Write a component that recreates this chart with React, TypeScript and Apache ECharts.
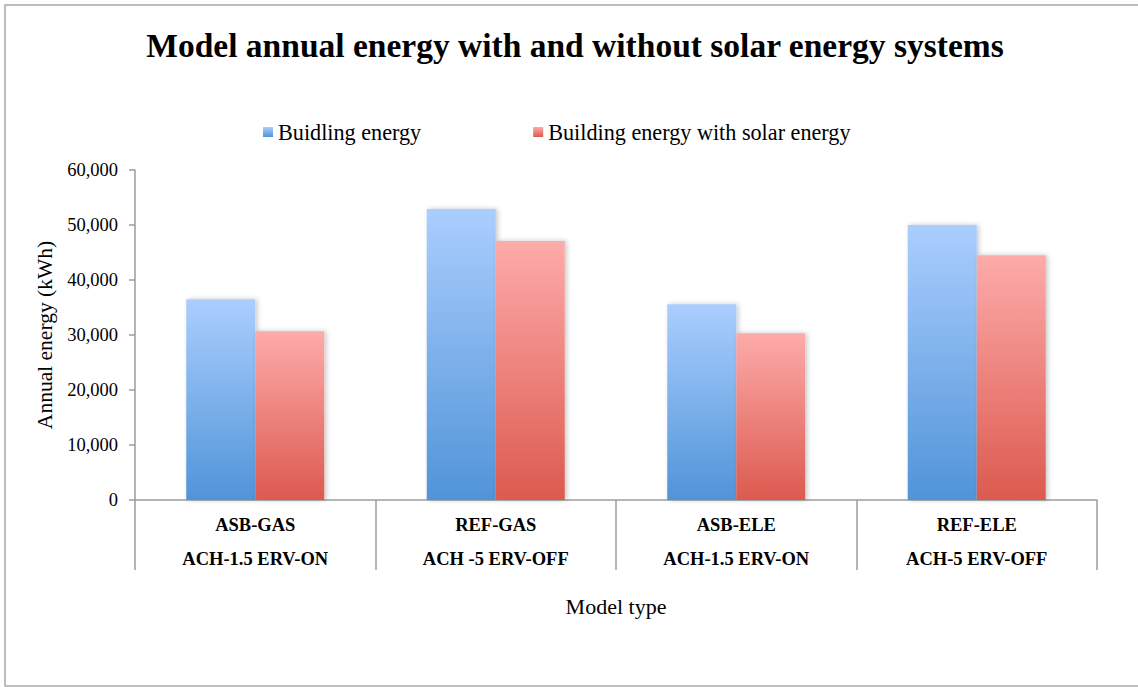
import React, { useEffect, useRef } from "react";
import * as echarts from "echarts";

// Model categories: model name on the first line, ventilation setup on the second
const modelNames = ["ASB-GAS", "REF-GAS", "ASB-ELE", "REF-ELE"];
const modelSetups = ["ACH-1.5 ERV-ON", "ACH -5 ERV-OFF", "ACH-1.5 ERV-ON", "ACH-5 ERV-OFF"];

// Annual energy per model (kWh)
const buildingEnergy = [36500, 52900, 35600, 50000];
const buildingEnergySolar = [30700, 47100, 30300, 44500];

const seriesNames = ["Buidling energy", "Building energy with solar energy"];
const yTicks = [0, 10000, 20000, 30000, 40000, 50000, 60000];

const FONT = "'Liberation Serif', 'Times New Roman', serif";

const gradient = (top: string, bottom: string) =>
  new echarts.graphic.LinearGradient(0, 0, 0, 1, [
    { offset: 0, color: top },
    { offset: 1, color: bottom },
  ]);

export default function App() {
  const ref = useRef<HTMLDivElement>(null);

  useEffect(() => {
    document.body.style.margin = "0";
    if (!ref.current) return;
    const chart = echarts.init(ref.current, undefined, { renderer: "svg" });

    const categories = modelNames.map((n, i) => `${n}\n${modelSetups[i]}`);
    const gridLine = {
      color: "#9c9c9c",
      width: 1.5,
      shadowColor: "rgba(0,0,0,0.18)",
      shadowBlur: 2,
      shadowOffsetY: 1.5,
    };
    const barShadow = {
      shadowColor: "rgba(0,0,0,0.22)",
      shadowBlur: 5,
      shadowOffsetX: 2,
      shadowOffsetY: 0,
    };

    chart.setOption({
      animation: false,
      backgroundColor: "#ffffff",
      textStyle: { fontFamily: FONT },
      graphic: [
        {
          type: "rect",
          shape: { x: 5, y: 5, width: 1145, height: 681 },
          style: { fill: "none", stroke: "#a9a9a9", lineWidth: 1.5 },
          silent: true,
        },
      ],
      title: {
        text: "Model annual energy with and without solar energy systems",
        left: 575,
        textAlign: "center",
        top: 28,
        padding: 0,
        textStyle: { fontFamily: FONT, fontSize: 33.5, fontWeight: "bold", color: "#000" },
      },
      legend: {
        data: seriesNames,
        left: 263,
        top: 121,
        padding: 0,
        itemWidth: 10,
        itemHeight: 10,
        itemGap: 112,
        icon: "rect",
        textStyle: { fontFamily: FONT, fontSize: 22.2, color: "#000", padding: [0, 0, 0, 0] },
      },
      grid: { left: 135, right: 41, top: 170, bottom: 187, containLabel: false },
      xAxis: {
        type: "category",
        data: categories,
        boundaryGap: true,
        name: "Model type",
        nameLocation: "middle",
        nameGap: 95,
        nameTextStyle: { fontFamily: FONT, fontSize: 22, color: "#000" },
        axisLine: { show: true, lineStyle: { color: "#9c9c9c", width: 1.5 } },
        axisTick: { show: true, length: 70, interval: 0, alignWithLabel: false, lineStyle: { color: "#9c9c9c", width: 1.5 } },
        axisLabel: {
          interval: 0,
          margin: 8,
          fontFamily: FONT,
          fontSize: 18.5,
          fontWeight: "bold",
          color: "#000",
          lineHeight: 34,
        },
        splitLine: { show: false },
      },
      yAxis: {
        type: "value",
        min: yTicks[0],
        max: yTicks[yTicks.length - 1],
        interval: yTicks[1] - yTicks[0],
        name: "Annual energy (kWh)",
        nameLocation: "middle",
        nameGap: 73,
        nameTextStyle: { fontFamily: FONT, fontSize: 21.5, color: "#000" },
        axisLine: { show: true, lineStyle: { color: "#9c9c9c", width: 1.5 } },
        axisTick: { show: true, length: 6, lineStyle: { color: "#9c9c9c", width: 1.5 } },
        axisLabel: {
          margin: 17,
          fontFamily: FONT,
          fontSize: 18.5,
          color: "#000",
          formatter: (v: number) => v.toLocaleString("en-US"),
        },
        splitLine: { show: true, lineStyle: gridLine },
      },
      series: [
        {
          name: seriesNames[0],
          type: "bar",
          data: buildingEnergy,
          barWidth: 69,
          barGap: "0%",
          itemStyle: { color: gradient("#abcefe", "#5094d8"), ...barShadow },
        },
        {
          name: seriesNames[1],
          type: "bar",
          data: buildingEnergySolar,
          barWidth: 69,
          barGap: "0%",
          itemStyle: { color: gradient("#fdabaa", "#dc5a4f"), ...barShadow },
        },
      ],
    });

    return () => chart.dispose();
  }, []);

  return (
    <div
      ref={ref}
      style={{ position: "absolute", left: 0, top: 0, width: 1138, height: 687 }}
    />
  );
}
